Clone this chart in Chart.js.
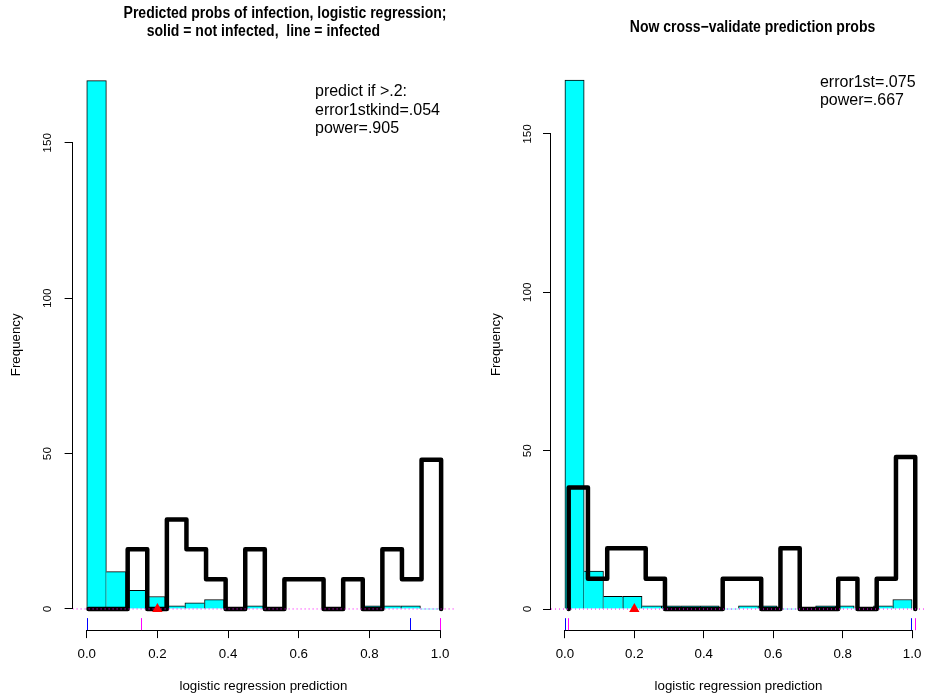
<!DOCTYPE html>
<html><head><meta charset="utf-8">
<script src="https://cdn.jsdelivr.net/npm/chart.js@4.4.1/dist/chart.umd.min.js"></script>
<style>
html,body{margin:0;padding:0;background:#fff;overflow:hidden;width:925px;height:693px;}
#c1{position:absolute;left:0;top:0;}
#c2{position:absolute;left:462px;top:0;}
</style></head><body>
<canvas id="c1" width="463" height="693"></canvas>
<canvas id="c2" width="470" height="693"></canvas>
<script>
// ---- data ----
const binEdges = [0, 0.0556, 0.1111, 0.1667, 0.2222, 0.2778, 0.3333, 0.3889, 0.4444, 0.5, 0.5556, 0.6111, 0.6667, 0.7222, 0.7778, 0.8333, 0.8889, 0.9444, 1];
const xTickVals = [0, 0.2, 0.4, 0.6, 0.8, 1.0];
const yTickVals = [0, 50, 100, 150];
const threshold = 0.2;

// left panel: fitted predictions
const leftNotInfected = [170, 12, 6, 4, 1, 2, 3, 0, 1, 0, 0, 0, 0, 0, 1, 1, 1, 0];
const leftInfectedEdges = [0.005, 0.0604, 0.1159, 0.1713, 0.2268, 0.2822, 0.3377, 0.3931, 0.4486, 0.504, 0.5594, 0.6149, 0.6703, 0.7258, 0.7812, 0.8367, 0.8921, 0.9476, 1.003];
const leftInfected = [0, 0, 19.2, 0, 28.8, 19.2, 9.6, 0, 19.2, 0, 9.6, 9.6, 0, 9.6, 0, 19.2, 9.6, 48];
const leftNotInfRange = [0, 0.915];
const leftInfRange = [0.153, 1.0];
const leftNote = ['predict if >.2:', 'error1stkind=.054', 'power=.905'];
const leftNotePos = [0.646, 166.4];
const leftTitle = ['Predicted probs of infection, logistic regression;', 'solid = not infected,  line = infected'];

// right panel: cross-validated predictions
const rightNotInfected = [167, 12, 4, 4, 1, 1, 1, 1, 0, 1, 1, 0, 0, 1, 1, 0, 1, 3];
const rightInfectedEdges = [0.011, 0.0664, 0.1219, 0.1773, 0.2328, 0.2882, 0.3436, 0.3991, 0.4545, 0.51, 0.5654, 0.6208, 0.6763, 0.7317, 0.7872, 0.8426, 0.898, 0.9535, 1.009];
const rightInfected = [38.4, 9.6, 19.2, 19.2, 9.6, 0, 0, 0, 9.6, 9.6, 0, 19.2, 0, 0, 9.6, 0, 9.6, 48];
const rightNotInfRange = [0, 0.997];
const rightInfRange = [0.0095, 1.009];
const rightNote = ['error1st=.075', 'power=.667'];
const rightNotePos = [0.7345, 166.2];
const rightTitle = ['Now cross\u2212validate prediction probs'];

const FONT = '"Liberation Sans", Arial, Helvetica, sans-serif';
const X_MIN = -0.04, X_MAX = 1.04;

const extras = {
  id: 'rExtras',
  afterDraw(chart) {
    const o = chart.options.plugins.rExtras;
    const ctx = chart.ctx, xs = chart.scales.x, ys = chart.scales.y, ca = chart.chartArea;
    ctx.save();
    ctx.strokeStyle = '#000'; ctx.lineWidth = 1;
    // x axis line (first to last tick)
    const yb = Math.round(ca.bottom) + 0.5;
    ctx.beginPath();
    ctx.moveTo(xs.getPixelForValue(xTickVals[0]), yb);
    ctx.lineTo(xs.getPixelForValue(xTickVals[xTickVals.length - 1]), yb);
    ctx.stroke();
    // y axis line
    const xl = Math.round(ca.left) - 0.5;
    ctx.beginPath();
    ctx.moveTo(xl, ys.getPixelForValue(yTickVals[0]));
    ctx.lineTo(xl, ys.getPixelForValue(yTickVals[yTickVals.length - 1]));
    ctx.stroke();
    // rug marks of the two group ranges
    const rug = (vals, col) => {
      ctx.strokeStyle = col;
      vals.forEach(v => {
        const px = Math.round(xs.getPixelForValue(v)) + 0.5;
        ctx.beginPath(); ctx.moveTo(px, ca.bottom); ctx.lineTo(px, ca.bottom - 12); ctx.stroke();
      });
    };
    rug(o.notInf, '#0000FF');
    rug(o.inf, '#FF00FF');
    // annotation text
    ctx.fillStyle = '#000';
    ctx.font = '16px ' + FONT;
    ctx.textAlign = 'left'; ctx.textBaseline = 'middle';
    const nx = xs.getPixelForValue(o.notePos[0]), ny = ys.getPixelForValue(o.notePos[1]);
    o.note.forEach((t, i) => ctx.fillText(t, nx, ny + i * 18.3));
    // main title (bold, condensed like the R device font)
    ctx.font = 'bold 16px ' + FONT;
    ctx.textAlign = 'center';
    const cx = (ca.left + ca.right) / 2;
    o.title.forEach((t, i) => {
      ctx.save();
      ctx.translate(cx + o.titleShift[i], o.titleY[i]);
      ctx.scale(0.875, 1);
      ctx.fillText(t, 0, 0);
      ctx.restore();
    });
    ctx.restore();
  }
};

function makePanel(id, p) {
  const bars = p.counts.map((c, i) => ({x: (binEdges[i] + binEdges[i + 1]) / 2, y: c}));
  const step = [{x: p.infEdges[0], y: 0}];
  p.inf.forEach((h, i) => { step.push({x: p.infEdges[i], y: h}); step.push({x: p.infEdges[i + 1], y: h}); });
  step.push({x: p.infEdges[p.infEdges.length - 1], y: 0});
  const counts = p.counts;
  return new Chart(document.getElementById(id), {
    type: 'bar',
    data: {
      datasets: [
        {
          type: 'bar', data: bars, order: 4,
          backgroundColor: '#00FFFF', borderColor: '#000',
          barPercentage: 1, categoryPercentage: 1,
          borderSkipped: false,
          borderWidth: (c) => {
            const i = c.dataIndex, h = counts[i];
            const prev = i > 0 ? counts[i - 1] : 0, next = i < counts.length - 1 ? counts[i + 1] : 0;
            return {top: 1, bottom: 0, left: h >= prev ? 1 : 0, right: next < h ? 1 : 0};
          }
        },
        {
          type: 'line', data: step, order: 3,
          borderColor: '#000', borderWidth: 4.5, pointRadius: 0, tension: 0, fill: false,
          borderJoinStyle: 'round', borderCapStyle: 'round'
        },
        {
          type: 'line', data: [{x: X_MIN, y: 0}, {x: X_MAX, y: 0}], order: 2,
          borderColor: '#FF00FF', borderWidth: 1, borderDash: [1, 3], pointRadius: 0, fill: false
        },
        {
          type: 'line', data: [{x: threshold, y: 0}], order: 1, showLine: false,
          pointStyle: 'triangle', pointRadius: 6, backgroundColor: '#FF0000', borderColor: '#FF0000', borderWidth: 0
        }
      ]
    },
    options: {
      responsive: false, animation: false, events: [],
      layout: {padding: {left: 0, right: p.padRight, top: p.padTop, bottom: 0}},
      plugins: {
        legend: {display: false}, tooltip: {enabled: false}, title: {display: false},
        rExtras: {notInf: p.notInf, inf: p.infR, note: p.note, notePos: p.notePos,
          title: p.title, titleY: p.titleY, titleShift: p.titleShift}
      },
      scales: {
        x: {
          type: 'linear', min: X_MIN, max: X_MAX, offset: false,
          afterBuildTicks: s => { s.ticks = xTickVals.map(v => ({value: v})); },
          afterFit: s => { s.height = p.xAxisH; },
          grid: {display: true, drawOnChartArea: false, drawTicks: true, tickLength: 8, color: '#000', lineWidth: 1, offset: false},
          border: {display: false},
          ticks: {autoSkip: false, minRotation: 0, maxRotation: 0, padding: 8.2, color: '#000',
            font: {family: FONT, size: 13.3}, callback: v => Number(v).toFixed(1)},
          title: {display: true, text: 'logistic regression prediction', color: '#000',
            font: {family: FONT, size: 13.3, lineHeight: 1}, padding: {top: 0, bottom: 0.3}}
        },
        y: {
          type: 'linear', min: p.yMin, max: p.yMax,
          afterBuildTicks: s => { s.ticks = yTickVals.map(v => ({value: v})); },
          afterFit: s => { s.width = p.yAxisW; },
          grid: {display: true, drawOnChartArea: false, drawTicks: true, tickLength: 8, color: '#000', lineWidth: 1},
          border: {display: false},
          ticks: {autoSkip: false, minRotation: 90, maxRotation: 90, crossAlign: 'center', padding: p.yLabPad, color: '#000',
            font: {family: FONT, size: 11.8}},
          title: {display: true, text: 'Frequency', color: '#000',
            font: {family: FONT, size: 13.3, lineHeight: 1}, padding: {top: p.yTitlePad, bottom: 0}}
        }
      }
    },
    plugins: [extras]
  });
}

makePanel('c1', {
  counts: leftNotInfected, infEdges: leftInfectedEdges, inf: leftInfected,
  notInf: leftNotInfRange, infR: leftInfRange, note: leftNote, notePos: leftNotePos,
  title: leftTitle, titleY: [14, 32], titleShift: [21.6, 0], padTop: 59.5,
  yMin: -6.8, yMax: 176.8, padRight: 8.8, yAxisW: 72.6, xAxisH: 62.9, yLabPad: 6.8, yTitlePad: 9.35
});
makePanel('c2', {
  counts: rightNotInfected, infEdges: rightInfectedEdges, inf: rightInfected,
  notInf: rightNotInfRange, infR: rightInfRange, note: rightNote, notePos: rightNotePos,
  title: rightTitle, titleY: [27.5], titleShift: [14], padTop: 59,
  yMin: -6.68, yMax: 173.68, padRight: 1.2, yAxisW: 89, xAxisH: 62.8, yLabPad: 5.2, yTitlePad: 27.35
});
</script>
</body></html>
